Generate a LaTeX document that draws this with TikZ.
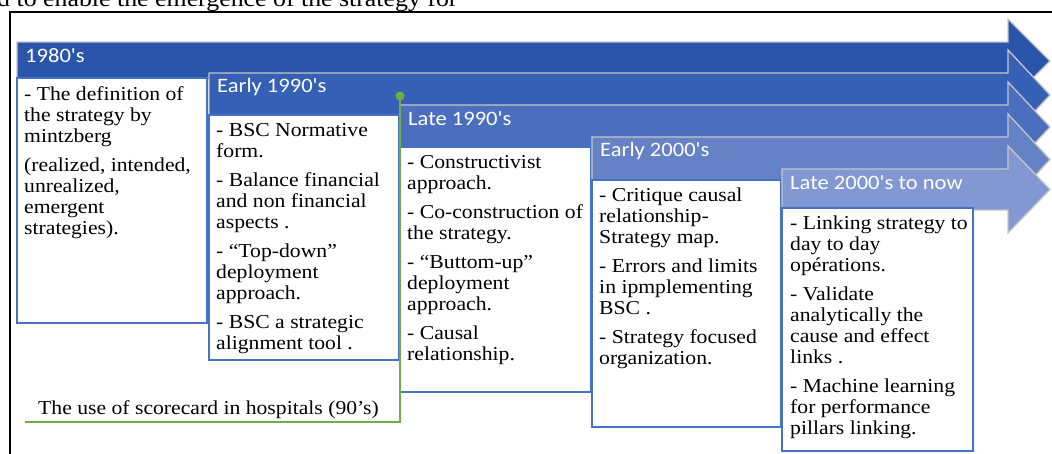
\documentclass[tikz,border=0pt]{standalone}
\usepackage{fontspec}
\setmainfont{Liberation Serif}
\newfontfamily\barfont{Carlito}
\usetikzlibrary{positioning}

\definecolor{bandA}{HTML}{2A55AB}
\definecolor{bandB}{HTML}{3560B6}
\definecolor{bandC}{HTML}{4B6EBE}
\definecolor{bandD}{HTML}{6682C7}
\definecolor{bandE}{HTML}{8198D2}
\definecolor{cardblue}{HTML}{4472C4}
\definecolor{hospgreen}{HTML}{70AD47}

\begin{document}
\begin{tikzpicture}[x=1pt, y=-1pt]

\tikzset{
    band/.style={draw=gray!45, line width=1.3pt},
    card/.style={draw=cardblue, line width=1.4pt, fill=white},
    cardtxt/.style={anchor=north west, align=left, inner sep=0pt,
        xscale=1.1, transform shape, font=\fontsize{19.7}{21}\selectfont},
    bandlbl/.style={anchor=west, text=white, inner sep=0pt,
        xscale=1.1, transform shape, font=\barfont\fontsize{20.5}{22}\selectfont},
    hosp/.style={draw=hospgreen, line width=1.7pt}
}

\useasboundingbox (0,0) rectangle (1052,453);

%====================================================
% page text and frame
%====================================================
\node[anchor=base west, inner sep=0pt, xscale=1.1, transform shape,
    font=\fontsize{23.5}{26}\selectfont] (toptxt) at (-3,6)
    {d to enable the emergence of the strategy for};
\draw[line width=2.2pt] (10,460) -- (10,12) -- (1060,12);

%====================================================
% bands and cards
%====================================================
\foreach \i/\xa/\xb/\ya/\yc/\yd/\col/\lab in {
    1/17/207/42/78/323/bandA/{1980\textquotesingle s},
    2/209/399/73/115/360/bandB/{Early 1990\textquotesingle s},
    3/400/591/105/147/392/bandC/{Late 1990\textquotesingle s},
    4/592/781/137/180/427/bandD/{Early 2000\textquotesingle s},
    5/782/973/169/208/451/bandE/{Late 2000\textquotesingle s to now}
}{
    \draw[band, fill=\col] (\xa,\ya) -- (1008,\ya) -- (1008,\ya-23)
        -- (1050,{(\ya+\yc+2)/2}) -- (1008,\yc+25) -- (1008,\yc+2)
        -- (\xa,\yc+2) -- cycle;
    \node[bandlbl] (lab\i) at (\xa+8,\ya+14) {\lab};
    \draw[card] (\xa,\yc) rectangle (\xb,\yd);
}

%====================================================
% card texts
%====================================================
\node[cardtxt] (t1) at (24,86) {- The definition of\\the strategy by\\mintzberg\\[8pt]
    (realized, intended,\\unrealized,\\emergent\\strategies).};

\node[cardtxt] (t2) at (216,123) {- BSC Normative\\form.\\[8pt]
    - Balance financial\\and non financial\\aspects .\\[8pt]
    - “Top-down”\\deployment\\approach.\\[8pt]
    - BSC a strategic\\alignment tool .};

\node[cardtxt] (t3) at (407,155) {- Constructivist\\approach.\\[8pt]
    - Co-construction of\\the strategy.\\[8pt]
    - “Buttom-up”\\deployment\\approach.\\[8pt]
    - Causal\\relationship.};

\node[cardtxt] (t4) at (599,188) {- Critique causal\\relationship-\\Strategy map.\\[8pt]
    - Errors and limits\\in ipmplementing\\BSC .\\[8pt]
    - Strategy focused\\organization.};

\node[cardtxt] (t5) at (790,216) {- Linking strategy to\\day to day\\opérations.\\[8pt]
    - Validate\\analytically the\\cause and effect\\links .\\[8pt]
    - Machine learning\\for performance\\pillars linking.};

%====================================================
% hospitals line
%====================================================
\coordinate (hdot) at (400,96);
\coordinate (hcorner) at (400,422);
\coordinate (hend) at (25,422);
\draw[hosp] (hdot) -- (hcorner) -- (hend);
\fill[hospgreen] (hdot) circle (4.6);
\node[cardtxt, anchor=base west] (hosptxt) at (38,414)
    {The use of scorecard in hospitals (90’s)};

\end{tikzpicture}
\end{document}
